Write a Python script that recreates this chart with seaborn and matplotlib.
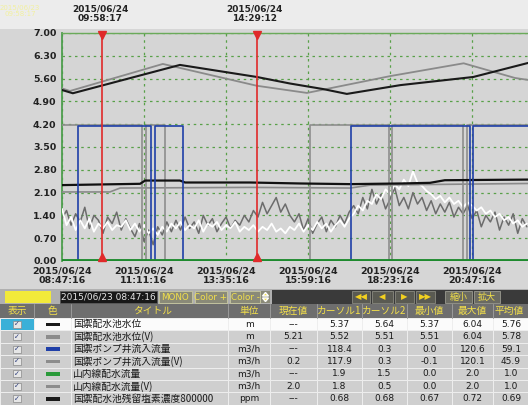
import numpy as np
import pandas as pd
import matplotlib
matplotlib.use("Agg")
import matplotlib.pyplot as plt
import seaborn as sns
from matplotlib import font_manager as fm
from matplotlib.patches import Rectangle, Polygon

# ---------------- data ----------------
# time axis in minutes after 2015/06/24 08:47:16
x_ticks = [0, 144, 288, 432, 576, 720]
x_labels = ["2015/06/24\n08:47:16", "2015/06/24\n11:11:16", "2015/06/24\n13:35:16",
            "2015/06/24\n15:59:16", "2015/06/24\n18:23:16", "2015/06/24\n20:47:16"]
y_ticks = [0.0, 0.7, 1.4, 2.1, 2.8, 3.5, 4.2, 4.9, 5.6, 6.3, 7.0]
cursor_t = [71, 342]
cursor_labels = ["2015/06/24\n09:58:17", "2015/06/24\n14:29:12"]

level_t = [0, 19, 207, 342, 400, 458, 500, 594, 722, 818]
level_v = [5.25, 5.15, 6.02, 5.65, 5.45, 5.28, 5.13, 5.40, 5.65, 6.08]
levelv_t = [0, 14, 177, 342, 430, 577, 705, 795, 818]
levelv_v = [5.30, 5.22, 6.05, 5.38, 5.16, 5.68, 6.07, 5.62, 5.56]

pump_t = [0, 28, 156, 163, 212, 507, 716, 722, 818]
pump_v = [0.0, 4.15, 0.0, 4.15, 0.0, 4.15, 0.0, 4.15, 4.15]
pumpv_t = [0, 140, 148, 181, 436, 574, 580, 704, 711, 818]
pumpv_v = [4.18, 0.0, 4.18, 0.0, 4.18, 0.0, 4.18, 0.0, 4.18, 4.18]

flow_t = [0, 818]
flow_v = [0.0, 0.0]

cl_t = [0, 67, 102, 137, 146, 207, 216, 330, 418, 506, 594, 646, 672, 818]
cl_v = [2.33, 2.35, 2.36, 2.37, 2.47, 2.47, 2.41, 2.41, 2.38, 2.36, 2.38, 2.40, 2.48, 2.50]
clv_t = [0, 84, 102, 330, 506, 541, 818]
clv_v = [2.12, 2.12, 2.24, 2.26, 2.24, 2.33, 2.38]

noise_t = list(range(0, 824, 8))
white_v = [1.6, 1.1, 1.35, 0.95, 1.25, 1.0, 1.3, 0.9, 1.15, 1.0, 1.2, 0.95, 1.1, 1.05, 1.25,
           0.95, 1.15, 0.9, 1.1, 0.85, 1.0, 0.8, 1.05, 0.9, 1.15,
           1.0, 1.2, 0.95, 1.1, 1.0, 1.25, 0.9, 1.15, 1.05, 1.2, 0.95, 1.1, 1.0, 1.2, 0.9, 1.05, 0.95,
           1.1, 0.9, 1.05, 0.95, 1.15, 0.9, 1.0, 0.85, 1.05,
           0.95, 1.15, 0.9, 1.1, 0.95, 1.2, 1.0, 1.15, 0.9, 1.1, 1.25, 1.05, 1.3,
           1.45, 1.7, 1.55, 1.85, 1.75, 2.05, 1.9, 2.2, 2.05, 2.35, 2.2,
           2.5, 2.3, 2.75, 2.4, 2.3, 2.15,
           2.05, 1.9, 2.0, 1.8, 1.95, 1.75, 1.85, 1.65, 1.8,
           1.7, 1.55, 1.65, 1.45, 1.55, 1.35, 1.45, 1.25, 1.35, 1.15, 1.25, 1.05, 1.15]
dgray_v = [1.3, 1.55, 1.1, 1.45, 1.2, 1.65, 1.0, 1.4, 1.25, 0.85, 1.35, 1.15, 1.5, 0.95, 1.3,
           1.0, 0.75, 1.15, 0.6, 0.95, 0.5, 1.05, 0.8, 1.2, 0.9,
           1.25, 0.95, 1.35, 1.0, 1.2, 0.85, 1.4, 1.1, 1.3, 0.9, 1.15, 1.35, 1.0, 1.25, 1.1, 1.4, 1.2,
           1.55, 1.35, 1.8, 1.45, 1.7, 1.95, 1.5, 1.75, 1.4,
           1.2, 1.45, 0.95, 1.3, 0.85, 1.15, 1.35, 0.9, 1.25, 1.05, 1.4, 1.15, 1.5,
           1.7, 1.45, 1.95, 1.6, 2.2, 1.75, 2.05, 1.6, 1.9, 2.25, 1.7,
           1.95, 1.6, 2.1, 1.75, 1.95, 1.55,
           1.85, 1.45, 1.75, 1.5, 1.8, 1.35, 1.65, 1.45, 1.7,
           1.3, 1.55, 1.05, 1.4, 1.2, 1.5, 0.95, 1.35, 1.1, 1.45, 0.85, 1.3, 1.05]

# table
headers = ["表示", "色", "タイトル", "単位", "現在値", "カーソル1", "カーソル2", "最小値", "最大値", "平均値"]
titles = ["国禦配水池水位", "国禦配水池水位(V)", "国禦ポンプ井流入流量", "国禦ポンプ井流入流量(V)",
          "山内線配水流量", "山内線配水流量(V)", "国禦配水池残留塩素濃度800000"]
units = ["m", "m", "m3/h", "m3/h", "m3/h", "m3/h", "ppm"]
current = ["---", "5.21", "---", "0.2", "---", "2.0", "---"]
cursor1 = ["5.37", "5.52", "118.4", "117.9", "1.9", "1.8", "0.68"]
cursor2 = ["5.64", "5.51", "0.3", "0.3", "1.5", "0.5", "0.68"]
minimum = ["5.37", "5.51", "0.0", "-0.1", "0.0", "0.0", "0.67"]
maximum = ["6.04", "6.04", "120.6", "120.1", "2.0", "2.0", "0.72"]
average = ["5.76", "5.78", "59.1", "45.9", "1.0", "1.0", "0.69"]
swatch = ["#1a1a1a", "#8c8c8c", "#1f3fa8", "#8c8c8c", "#2a9a3a", "#8c8c8c", "#1a1a1a"]

# ---------------- style ----------------
sns.set_theme(style="white")
names = {f.name for f in fm.fontManager.ttflist}
narrow = "Liberation Sans Narrow" if "Liberation Sans Narrow" in names else "DejaVu Sans"
plt.rcParams["font.family"] = [narrow, "Noto Sans CJK JP", "DejaVu Sans"]
jp = ["Noto Sans CJK JP", "DejaVu Sans"]

W, H = 528, 405
fig = plt.figure(figsize=(W / 100, H / 100), dpi=100, facecolor="#d6d6d6")

# background / overlay axes in pixel coordinates
bg = fig.add_axes([0, 0, 1, 1], zorder=-1)
bg.set_xlim(0, W)
bg.set_ylim(H, 0)
bg.axis("off")
bg.add_patch(Rectangle((0, 0), W, 29, fc="#ececec", ec="none"))

# ---------------- chart ----------------
ax = fig.add_axes([62 / W, (H - 261) / H, (W - 62) / W, (261 - 33) / H], zorder=1)
ax.set_facecolor("#d5d5d5")

def line(t, v, color, lw, z, **kw):
    sns.lineplot(x=t, y=v, ax=ax, color=color, lw=lw, zorder=z, estimator=None,
                 sort=False, legend=False, **kw)

line(noise_t, dgray_v, "#6c6c6c", 1.1, 3)
line(noise_t, white_v, "#ffffff", 1.3, 4)
line(clv_t, clv_v, "#8a8a8a", 1.2, 5)
line(cl_t, cl_v, "#111111", 1.6, 6)
line(pumpv_t, pumpv_v, "#8e8e8e", 1.2, 5, drawstyle="steps-post")
line(pump_t, pump_v, "#1f3fa8", 1.2, 6, drawstyle="steps-post")
line(levelv_t, levelv_v, "#8a8a8a", 1.3, 5)
line(level_t, level_v, "#1a1a1a", 1.5, 6)
line(flow_t, flow_v, "#1e8a2e", 3.5, 8)

for ct in cursor_t:
    ax.axvline(ct, color="#e02a2a", lw=1.2, zorder=9)
    ax.plot([ct], [6.93], marker="v", ms=6, color="#e02a2a", zorder=10, clip_on=False)
    ax.plot([ct], [0.12], marker="^", ms=6, color="#e02a2a", zorder=10, clip_on=False)

ax.set_xlim(0, 818)
ax.set_ylim(0, 7.0)
ax.set_yticks(y_ticks)
ax.set_yticklabels([f"{v:.2f}" for v in y_ticks], fontsize=6.8, fontweight="bold", color="#222222")
ax.set_xticks(x_ticks)
ax.set_xticklabels(x_labels, fontsize=6.8, fontweight="bold", color="#222222", linespacing=1.0)
ax.tick_params(length=0, pad=4)
ax.grid(True, color="#58a048", linestyle=(0, (2, 3)), lw=0.9)
for s in ["right", "bottom"]:
    ax.spines[s].set_visible(False)
ax.spines["left"].set_color("#4e9e4e")
ax.spines["left"].set_linewidth(1.3)
ax.spines["top"].set_color("#6aaa5a")
ax.spines["top"].set_linewidth(1.0)
ax.set_xlabel("")
ax.set_ylabel("")

# cursor labels / top-left info
cursor_px = [62 + t / 1.756 for t in cursor_t]
for cx, lab in zip(cursor_px, cursor_labels):
    bg.text(cx - 2, 14, lab, ha="center", va="center", fontsize=6.5, fontweight="bold",
            color="#222222", linespacing=1.0)
bg.text(20, 11, "2015/06/23\n09:58:17", ha="center", va="center", fontsize=5,
        color="#f2f0a0", linespacing=1.0)

# ---------------- toolbar ----------------
ty, th = 290, 14
bg.add_patch(Rectangle((0, ty - 1), W, th + 1, fc="#b0b0b0", ec="none"))
bg.add_patch(Rectangle((272, ty), W - 272, th, fc="#3a3a3a", ec="none"))
bg.add_patch(Rectangle((5, ty + 1), 46, th - 2, fc="#f2ea3a", ec="none"))
bg.add_patch(Rectangle((60, ty + 1), 97, th - 2, fc="#181818", ec="#555555", lw=0.6))
bg.text(108, ty + th / 2, "2015/06/23 08:47:16", ha="center", va="center", fontsize=6.5,
        color="#e6e6e6")
for x0, w, lab in [(159, 33, "MONO"), (195, 32, "Color +"), (230, 30, "Color -")]:
    bg.add_patch(Rectangle((x0, ty + 1), w, th - 2, fc="#8a8a78", ec="#c8c8a0", lw=0.6))
    bg.text(x0 + w / 2, ty + th / 2, lab, ha="center", va="center", fontsize=6.3,
            color="#f2e04a")
bg.add_patch(Rectangle((261, ty + 1), 9, th - 2, fc="#8a8a78", ec="none"))
bg.add_patch(Polygon([(262.5, ty + 6), (268.5, ty + 6), (265.5, ty + 2.5)], fc="#f2e04a"))
bg.add_patch(Polygon([(262.5, ty + 8), (268.5, ty + 8), (265.5, ty + 11.5)], fc="#f2e04a"))
for x0, w, lab in [(352, 18, "◀◀"), (372, 21, "◀"), (395, 19, "▶"), (416, 19, "▶▶")]:
    bg.add_patch(Rectangle((x0, ty + 1), w, th - 2, fc="#5a5a52", ec="#8a8a80", lw=0.6))
    bg.text(x0 + w / 2, ty + th / 2, lab, ha="center", va="center", fontsize=6,
            color="#f2d020", family=["DejaVu Sans"])
for x0, w, lab in [(445, 27, "縮小"), (474, 26, "拡大")]:
    bg.add_patch(Rectangle((x0, ty + 1), w, th - 2, fc="#6a6a62", ec="#9a9a90", lw=0.6))
    bg.text(x0 + w / 2, ty + th / 2, lab, ha="center", va="center", fontsize=6.5,
            color="#f2e04a", family=jp)

# ---------------- table ----------------
edges = [0, 34, 71, 228, 270, 317, 362, 407, 452, 493, 540]
hy, hh = 304, 14
bg.add_patch(Rectangle((0, hy), W, hh, fc="#6e6e6e", ec="none"))
for i, hd in enumerate(headers):
    cx = (edges[i] + edges[i + 1]) / 2
    if i == 2:
        cx = 153
    if i == 9:
        cx = 509
    bg.text(cx, hy + hh / 2, hd, ha="center", va="center", fontsize=7, color="#f4e04a",
            family=jp)
    if i > 0:
        bg.plot([edges[i], edges[i]], [hy, hy + hh], color="#9a9a9a", lw=0.7)

ry0, rh = 318, 12.4
cols_text = [current, cursor1, cursor2, minimum, maximum, average]
for r in range(7):
    y0 = ry0 + r * rh
    for c in range(10):
        if c == 0:
            fc = "#3ab0d8" if r == 0 else "#c4c4c4"
        else:
            fc = "#fbfbfb" if r == 0 else "#cfcfcf"
        bg.add_patch(Rectangle((edges[c], y0), edges[c + 1] - edges[c], rh, fc=fc,
                               ec="#eeeeee", lw=0.7))
    yc = y0 + rh / 2
    bg.add_patch(Rectangle((13, yc - 3.5), 8, 7, fc="#e6e6e6", ec="#8a8a8a", lw=0.5))
    bg.text(17, yc, "✓", ha="center", va="center", fontsize=5, color="#2a3a7a",
            family=["DejaVu Sans"])
    bg.add_patch(Rectangle((46, yc - 1.7), 14, 3.6, fc=swatch[r], ec="none"))
    bg.text(73, yc, titles[r], ha="left", va="center", fontsize=7, color="#1a1a1a", family=jp)
    bg.text(249, yc, units[r], ha="center", va="center", fontsize=6.5, color="#1a1a1a")
    for k, col in enumerate(cols_text):
        c = 4 + k
        cx = (edges[c] + edges[c + 1]) / 2 if c < 9 else 511
        bg.text(cx, yc, col[r], ha="center", va="center", fontsize=6.5, color="#1a1a1a")

fig.savefig("out.png", dpi=100, facecolor=fig.get_facecolor())
